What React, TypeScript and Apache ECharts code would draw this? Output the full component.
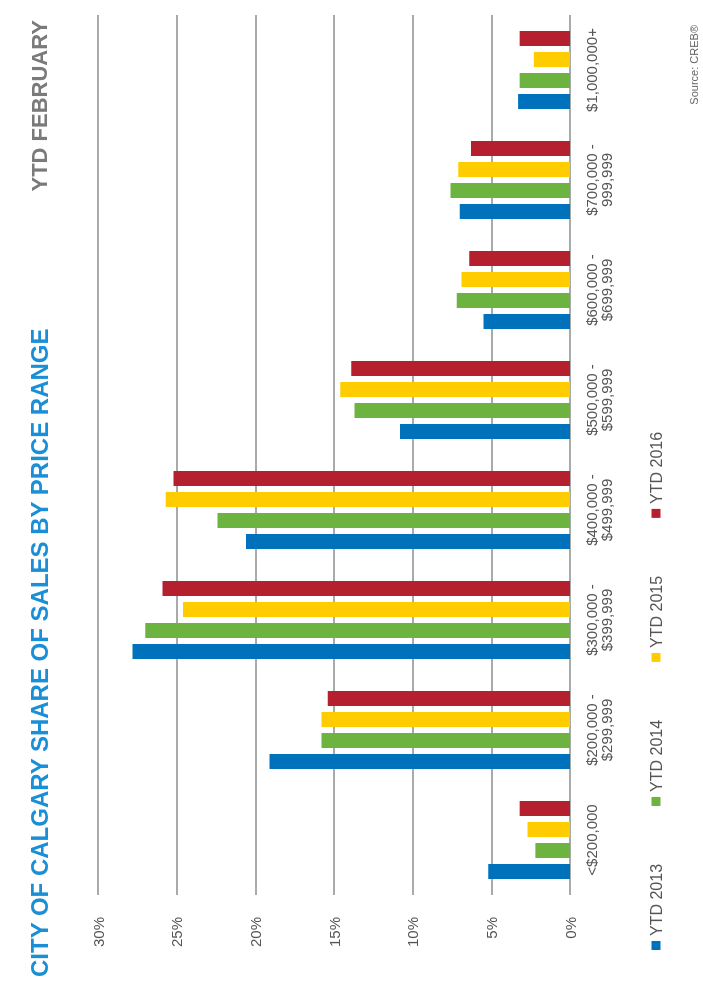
import { useEffect, useRef } from "react";
import * as echarts from "echarts";

const categories = [
  "<$200,000",
  "$200,000 -\n$299,999",
  "$300,000 -\n$399,999",
  "$400,000 -\n$499,999",
  "$500,000 -\n$599,999",
  "$600,000 -\n$699,999",
  "$700,000 -\n999,999",
  "$1,000,000+",
];
const ytd2013 = [5.2, 19.1, 27.8, 20.6, 10.8, 5.5, 7.0, 3.3];
const ytd2014 = [2.2, 15.8, 27.0, 22.4, 13.7, 7.2, 7.6, 3.2];
const ytd2015 = [2.7, 15.8, 24.6, 25.7, 14.6, 6.9, 7.1, 2.3];
const ytd2016 = [3.2, 15.4, 25.9, 25.2, 13.9, 6.4, 6.3, 3.2];
const seriesNames = ["YTD 2013", "YTD 2014", "YTD 2015", "YTD 2016"];
const colors = ["#0072bc", "#6db33f", "#ffcc00", "#b5202e"];

export default function App() {
  const ref = useRef<HTMLDivElement | null>(null);

  useEffect(() => {
    if (!ref.current) return;
    const chart = echarts.init(ref.current, null, { renderer: "svg" });
    const font = "Liberation Sans, Arial, sans-serif";
    chart.setOption({
      animation: false,
      color: colors,
      textStyle: { fontFamily: font },
      title: [
        {
          text: "CITY OF CALGARY SHARE OF SALES BY PRICE RANGE",
          left: 8,
          top: 22,
          textStyle: { color: "#1a8fd6", fontSize: 24, fontWeight: "bold", fontFamily: font },
        },
        {
          text: "YTD FEBRUARY",
          right: 15,
          top: 23,
          textStyle: { color: "#7a7a7a", fontSize: 22, fontWeight: "bold", fontFamily: font },
        },
        {
          text: "Source: CREB®",
          right: 20,
          top: 683,
          textStyle: { color: "#666", fontSize: 11, fontWeight: "normal", fontFamily: font },
        },
      ],
      legend: {
        left: 35,
        top: 643,
        itemWidth: 9,
        itemHeight: 9,
        itemGap: 58,
        icon: "rect",
        textStyle: { color: "#555", fontSize: 16 },
        data: seriesNames,
      },
      grid: { left: 95, right: 15, top: 98, bottom: 133 },
      xAxis: {
        type: "category",
        data: categories,
        axisLine: { show: false },
        axisTick: { show: false },
        axisLabel: { color: "#555", fontSize: 15, lineHeight: 15, margin: 14 },
      },
      yAxis: {
        type: "value",
        min: 0,
        max: 30,
        interval: 5,
        axisLabel: { formatter: "{value}%", color: "#555", fontSize: 15, margin: 22 },
        splitLine: { lineStyle: { color: "#8a8f8c", width: 1.5 } },
      },
      series: [ytd2013, ytd2014, ytd2015, ytd2016].map((data, i) => ({
        name: seriesNames[i],
        type: "bar",
        data,
        barWidth: 15,
        barGap: "40%",
      })),
    });
    return () => chart.dispose();
  }, []);

  return (
    <div
      ref={ref}
      style={{
        position: "fixed",
        left: 0,
        top: 0,
        width: 990,
        height: 703,
        transformOrigin: "0 0",
        transform: "translateY(990px) rotate(-90deg)",
        background: "#fff",
      }}
    />
  );
}
